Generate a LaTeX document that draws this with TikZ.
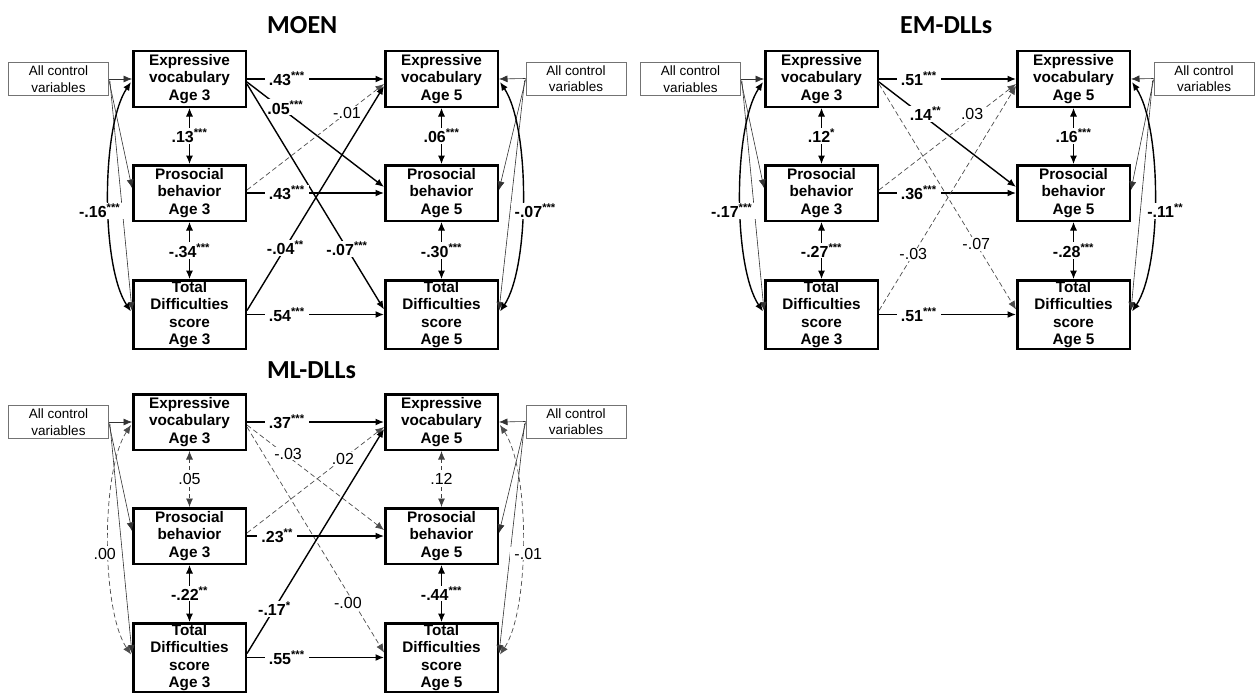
\documentclass[tikz,border=0pt]{standalone}
\usepackage{fontspec}
\setmainfont{Liberation Sans}
\newfontfamily\titlefont{Carlito}
\usetikzlibrary{arrows.meta,calc}

\tikzset{
  >={Latex[length=8.5pt,width=7pt]},
  box/.style={draw, line width=2.5pt, minimum width=112.5pt, minimum height=55.5pt,
    inner sep=0pt, align=center, font=\fontsize{15.3}{17.5}\selectfont\bfseries},
  tdbox/.style={box, minimum height=68.5pt},
  ctrl/.style={draw=black!55, line width=0.8pt, minimum width=100pt, minimum height=33pt,
    inner sep=0pt, align=center, font=\fontsize{13.5}{16.5}\selectfont},
  ttl/.style={anchor=west, inner sep=0pt, font=\titlefont\bfseries\fontsize{26}{30}\selectfont},
  reg/.style={->, line width=1.4pt},
  ns/.style={->, line width=0.7pt, draw=black!70, dash pattern=on 5pt off 3pt},
  ctl/.style={->, line width=0.6pt, draw=black!80},
  corr/.style={<->, line width=1.4pt},
  corrns/.style={<->, line width=0.7pt, draw=black!70, dash pattern=on 5pt off 3pt},
  vc/.style={<->, line width=1pt},
  vcns/.style={<->, line width=0.8pt, draw=black!75, dash pattern=on 4pt off 3pt},
  lab/.style={fill=white, inner xsep=4pt, inner ysep=1pt, font=\fontsize{16}{18}\selectfont},
}
\newcommand{\sg}[2]{\textbf{#1}\textsuperscript{\textbf{#2}}}

\newcommand{\panelboxes}[2]{%
  \node[ctrl] (#1c1) at (58.5,79) {All control\\variables};
  \node[box] (#1ev3) at (189.5,79) {Expressive\\vocabulary\\Age 3};
  \node[box] (#1pb3) at (189.5,193) {Prosocial\\behavior\\Age 3};
  \node[tdbox] (#1td3) at (189.5,314.5) {Total\\Difficulties\\score\\Age 3};
  \node[box] (#1ev5) at (441.5,79) {Expressive\\vocabulary\\Age 5};
  \node[box] (#1pb5) at (441.5,193) {Prosocial\\behavior\\Age 5};
  \node[tdbox] (#1td5) at (441.5,314.5) {Total\\Difficulties\\score\\Age 5};
  \node[ctrl] (#1c2) at (#2,78.5) {All control\\variables};
  \draw[ctl] (#1c1.east) -- (#1ev3.west);
  \draw[ctl] ($(#1c1.east)+(0,1)$) -- ($(#1pb3.west)+(0,-5)$);
  \draw[ctl] ($(#1c1.east)+(1,2)$) -- ($(#1td3.west)+(0,-4)$);
  \draw[ctl] (#1c2.west) -- (#1ev5.east);
  \draw[ctl] ($(#1c2.west)+(0,1)$) -- ($(#1pb5.east)+(0,-3)$);
  \draw[ctl] ($(#1c2.west)+(-1,2)$) -- ($(#1td5.east)+(0,-4)$);
}

\begin{document}
\begin{tikzpicture}[x=1pt,y=-1pt]
\useasboundingbox (0,0) rectangle (1255,693);

% ---------------- MOEN ----------------
\begin{scope}
\node[ttl] (t1) at (267,25) {MOEN};
\panelboxes{m}{576}
\draw[reg] (mev3.east) -- node[lab,pos=0.29]{\sg{.43}{***}} (mev5.west);
\draw[reg] ($(mev3.east)+(0,3)$) -- node[lab,pos=0.28,yshift=4pt]{\sg{.05}{***}} ($(mpb5.west)+(0,-6)$);
\draw[reg] ($(mev3.east)+(0,5)$) -- node[lab,pos=0.73]{\sg{-.07}{***}} ($(mtd5.west)+(0,-5)$);
\draw[ns] ($(mpb3.east)+(0,-3)$) -- node[lab,pos=0.73]{-.01} ($(mev5.west)+(0,5)$);
\draw[reg] (mpb3.east) -- node[lab,pos=0.29]{\sg{.43}{***}} (mpb5.west);
\draw[reg] ($(mtd3.east)+(0,-4)$) -- node[lab,pos=0.28]{\sg{-.04}{**}} ($(mev5.west)+(0,7)$);
\draw[reg] (mtd3.east) -- node[lab,pos=0.29]{\sg{.54}{***}} (mtd5.west);
\draw[vc] (mev3.south) -- node[lab]{\sg{.13}{***}} (mpb3.north);
\draw[vc] (mpb3.south) -- node[lab]{\sg{-.34}{***}} (mtd3.north);
\draw[vc] (mev5.south) -- node[lab]{\sg{.06}{***}} (mpb5.north);
\draw[vc] (mpb5.south) -- node[lab]{\sg{-.30}{***}} (mtd5.north);
\draw[corr] ($(mev3.west)+(-1,3)$) .. controls +(-30,45) and +(-30,-45) .. ($(mtd3.west)+(-1,-3)$) node[lab,pos=0.55,xshift=-9pt]{\sg{-.16}{***}};
\draw[corr] ($(mev5.east)+(1,3)$) .. controls +(30,45) and +(30,-45) .. ($(mtd5.east)+(1,-3)$) node[lab,pos=0.55,xshift=13pt]{\sg{-.07}{***}};
\end{scope}

% ---------------- EM-DLLs ----------------
\begin{scope}[shift={(632,0)}]
\node[ttl] (t2) at (268,25) {EM-DLLs};
\panelboxes{e}{572}
\draw[reg] (eev3.east) -- node[lab,pos=0.29]{\sg{.51}{***}} (eev5.west);
\draw[reg] ($(eev3.east)+(0,3)$) -- node[lab,pos=0.34,yshift=4pt]{\sg{.14}{**}} ($(epb5.west)+(0,-6)$);
\draw[ns] ($(eev3.east)+(0,5)$) -- node[lab,pos=0.71]{-.07} ($(etd5.west)+(0,-5)$);
\draw[ns] ($(epb3.east)+(0,-3)$) -- node[lab,pos=0.68,yshift=4pt]{.03} ($(eev5.west)+(0,5)$);
\draw[reg] (epb3.east) -- node[lab,pos=0.29]{\sg{.36}{***}} (epb5.west);
\draw[ns] ($(etd3.east)+(0,-4)$) -- node[lab,pos=0.25]{-.03} ($(eev5.west)+(0,7)$);
\draw[reg] (etd3.east) -- node[lab,pos=0.29]{\sg{.51}{***}} (etd5.west);
\draw[vc] (eev3.south) -- node[lab]{\sg{.12}{*}} (epb3.north);
\draw[vc] (epb3.south) -- node[lab]{\sg{-.27}{***}} (etd3.north);
\draw[vc] (eev5.south) -- node[lab]{\sg{.16}{***}} (epb5.north);
\draw[vc] (epb5.south) -- node[lab]{\sg{-.28}{***}} (etd5.north);
\draw[corr] ($(eev3.west)+(-1,3)$) .. controls +(-30,45) and +(-30,-45) .. ($(etd3.west)+(-1,-3)$) node[lab,pos=0.55,xshift=-9pt]{\sg{-.17}{***}};
\draw[corr] ($(eev5.east)+(1,3)$) .. controls +(30,45) and +(30,-45) .. ($(etd5.east)+(1,-3)$) node[lab,pos=0.55,xshift=11pt]{\sg{-.11}{**}};
\end{scope}

% ---------------- ML-DLLs ----------------
\begin{scope}[shift={(0,343)}]
\node[ttl] (t3) at (267,27) {ML-DLLs};
\panelboxes{l}{576}
\draw[reg] (lev3.east) -- node[lab,pos=0.29]{\sg{.37}{***}} (lev5.west);
\draw[ns] ($(lev3.east)+(0,3)$) -- node[lab,pos=0.3,yshift=3pt]{-.03} ($(lpb5.west)+(0,-6)$);
\draw[ns] ($(lev3.east)+(0,5)$) -- node[lab,pos=0.78,xshift=-6pt]{-.00} ($(ltd5.west)+(0,-5)$);
\draw[ns] ($(lpb3.east)+(0,-3)$) -- node[lab,pos=0.7]{.02} ($(lev5.west)+(0,5)$);
\draw[reg] (lpb3.east) -- node[lab,pos=0.22]{\sg{.23}{**}} (lpb5.west);
\draw[reg] ($(ltd3.east)+(0,-4)$) -- node[lab,pos=0.2]{\sg{-.17}{*}} ($(lev5.west)+(0,7)$);
\draw[reg] (ltd3.east) -- node[lab,pos=0.29]{\sg{.55}{***}} (ltd5.west);
\draw[vcns] (lev3.south) -- node[lab]{.05} (lpb3.north);
\draw[vc] (lpb3.south) -- node[lab]{\sg{-.22}{**}} (ltd3.north);
\draw[vcns] (lev5.south) -- node[lab]{.12} (lpb5.north);
\draw[vc] (lpb5.south) -- node[lab]{\sg{-.44}{***}} (ltd5.north);
\draw[corrns] ($(lev3.west)+(-1,3)$) .. controls +(-30,45) and +(-30,-45) .. ($(ltd3.west)+(-1,-3)$) node[lab,pos=0.55,xshift=-4pt]{.00};
\draw[corrns] ($(lev5.east)+(1,3)$) .. controls +(30,45) and +(30,-45) .. ($(ltd5.east)+(1,-3)$) node[lab,pos=0.55,xshift=6pt]{-.01};
\end{scope}
\end{tikzpicture}
\end{document}
